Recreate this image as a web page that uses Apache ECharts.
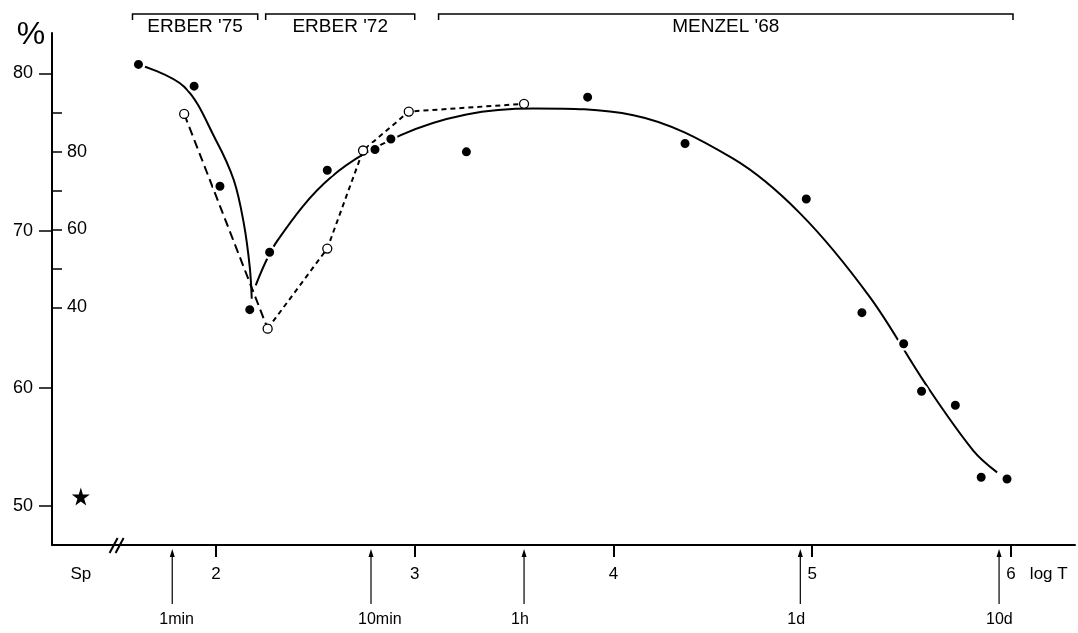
<!DOCTYPE html>
<html>
<head>
<meta charset="utf-8">
<script src="https://cdn.jsdelivr.net/npm/echarts@6/dist/echarts.min.js"></script>
<style>
  html, body { margin: 0; padding: 0; background: #fff; }
  #chart { width: 1078px; height: 633px; }
</style>
</head>
<body>
<div id="chart"></div>
<script>
// x = log T (T in seconds)
// filled points, read on the outer % scale
const filledX = [1.61, 1.89, 2.02, 2.17, 2.27, 2.56, 2.80, 2.88, 3.26, 3.87, 4.36, 4.97, 5.25, 5.46, 5.55, 5.72, 5.85, 5.98];
const filledY = [80.57, 79.19, 72.82, 64.97, 68.62, 73.84, 75.16, 75.83, 75.01, 78.49, 75.54, 72.01, 64.78, 62.80, 59.78, 58.89, 54.31, 54.20];

// open points, read on the inner scale (40 / 60 / 80)
const openX = [1.84, 2.26, 2.56, 2.74, 2.97, 3.55];
const openY = [89.7, 34.5, 55.1, 80.3, 90.3, 92.3];

// hand drawn fit curve (outer % scale), two branches
const fitLeftX = [1.61, 1.84, 2.00, 2.09, 2.14, 2.17, 2.18];
const fitLeftY = [80.57, 79.15, 75.75, 73.20, 70.46, 67.68, 65.67];
const fitRightX = [2.20, 2.31, 2.58, 2.93, 3.26, 3.60, 4.10, 4.60, 4.94, 5.29, 5.57, 5.81, 5.93];
const fitRightY = [66.52, 69.38, 73.41, 76.07, 77.39, 77.77, 77.34, 74.59, 71.08, 65.77, 60.25, 56.01, 54.62];

// Sp (star)
const spX = 1.32;
const spY = 53.08;

// axis ticks
const xTickValues = [2, 3, 4, 5, 6];
const logTX = 6.19;
const outerTickValues = [52.5, 60, 70, 80];
const outerTickLabels = ['50', '60', '70', '80'];
const innerTickValues = [40, 50, 60, 70, 80, 90];
const innerLabelValues = [40, 60, 80];

// time marks under the axis
const timeX = [1.78, 2.78, 3.55, 4.94, 5.94];
const timeLabels = ['1min', '10min', '1h', '1d', '10d'];

// source brackets on top
const groupStart = [1.58, 2.25, 3.12];
const groupEnd = [2.21, 3.00, 6.01];
const groupNames = ["ERBER '75", "ERBER '72", "MENZEL '68"];

const breakX = 1.5;

const FONT = '"Liberation Sans", Arial, sans-serif';
const pairs = (xs, ys) => xs.map((x, i) => [x, ys[i]]);

const chart = echarts.init(document.getElementById('chart'));

const xLabel = v => {
    if (v === spX) return 'Sp';
    if (v === logTX) return 'log T';
    return String(v);
};

const option = {
    animation: false,
    backgroundColor: '#fff',
    grid: { left: 52, right: 3, top: 33, bottom: 88 },
    xAxis: {
        type: 'value',
        min: 1.175,
        max: 6.322,
        axisLine: { onZero: false, lineStyle: { color: '#000', width: 2 } },
        axisTick: { customValues: xTickValues, length: 12, lineStyle: { color: '#000', width: 2 } },
        axisLabel: {
            customValues: [spX].concat(xTickValues, [logTX]),
            formatter: xLabel,
            color: '#000',
            fontSize: 17,
            fontFamily: FONT,
            margin: 21
        },
        splitLine: { show: false }
    },
    yAxis: [
        {
            // outer % scale
            type: 'value',
            min: 50,
            max: 82.57,
            position: 'left',
            name: '%',
            nameLocation: 'end',
            nameGap: -18,
            nameMoveOverlap: false,
            nameTextStyle: { color: '#000', fontSize: 32, fontFamily: FONT, padding: [0, 42, 0, 0] },
            axisLine: { show: true, onZero: false, lineStyle: { color: '#000', width: 2 } },
            axisTick: { customValues: outerTickValues, length: 13, lineStyle: { color: '#000', width: 1.5 } },
            axisLabel: {
                customValues: outerTickValues,
                formatter: v => outerTickLabels[outerTickValues.indexOf(v)],
                color: '#000',
                fontSize: 18,
                fontFamily: FONT,
                margin: 19
            },
            splitLine: { show: false }
        },
        {
            // inner scale
            type: 'value',
            min: -21.1,
            max: 110.5,
            position: 'left',
            offset: 0,
            axisLine: { show: false, onZero: false },
            axisTick: { inside: true, customValues: innerTickValues, length: 10, lineStyle: { color: '#000', width: 1.5 } },
            axisLabel: {
                inside: true,
                customValues: innerLabelValues,
                color: '#000',
                fontSize: 18,
                fontFamily: FONT,
                margin: 15
            },
            splitLine: { show: false }
        }
    ],
    series: [
        {
            name: 'fit left',
            type: 'line',
            z: 2,
            data: pairs(fitLeftX, fitLeftY),
            smooth: 0.35,
            symbol: 'none',
            silent: true,
            lineStyle: { color: '#000', width: 2 }
        },
        {
            name: 'fit right',
            type: 'line',
            z: 2,
            data: pairs(fitRightX, fitRightY),
            smooth: 0.35,
            symbol: 'none',
            silent: true,
            lineStyle: { color: '#000', width: 2 }
        },
        {
            name: 'open dashed a',
            type: 'line',
            z: 2,
            yAxisIndex: 1,
            data: pairs(openX.slice(0, 2), openY.slice(0, 2)),
            symbol: 'none',
            silent: true,
            lineStyle: { color: '#000', width: 2, type: [9, 5] }
        },
        {
            name: 'open dashed b',
            type: 'line',
            z: 2,
            yAxisIndex: 1,
            data: pairs(openX.slice(1), openY.slice(1)),
            symbol: 'none',
            silent: true,
            lineStyle: { color: '#000', width: 2, type: [5, 4] }
        },
        {
            name: 'filled',
            type: 'scatter',
            z: 6,
            data: pairs(filledX, filledY),
            symbol: 'circle',
            symbolSize: 11.5,
            silent: true,
            itemStyle: { color: '#000', borderColor: '#fff', borderWidth: 2.5, opacity: 1 }
        },
        {
            name: 'open',
            type: 'scatter',
            z: 6,
            yAxisIndex: 1,
            data: pairs(openX, openY),
            symbol: 'circle',
            symbolSize: 9,
            silent: true,
            itemStyle: { color: '#fff', borderColor: '#000', borderWidth: 1.3, opacity: 1 }
        },
        {
            name: 'Sp',
            type: 'scatter',
            z: 6,
            data: [[spX, spY]],
            symbol: 'path://M50,0 L61,35 L98,35 L68,57 L79,91 L50,70 L21,91 L32,57 L2,35 L39,35 Z',
            symbolSize: 18,
            silent: true,
            itemStyle: { color: '#000', opacity: 1 }
        },
        {
            // time arrows under the axis
            name: 'time',
            type: 'custom',
            silent: true,
            clip: false,
            data: timeX.map(v => [v, 50]),
            encode: { x: 0, y: 1 },
            renderItem(params, api) {
                const p = api.coord([api.value(0), 50]);
                const x = p[0];
                const y = p[1];
                return {
                    type: 'group',
                    children: [
                        { type: 'line', shape: { x1: x, y1: y + 9, x2: x, y2: y + 59 }, style: { stroke: '#000', lineWidth: 1.2 } },
                        { type: 'polygon', shape: { points: [[x, y + 4], [x - 2.5, y + 12], [x + 2.5, y + 12]] }, style: { fill: '#000' } },
                        {
                            type: 'text',
                            style: {
                                text: timeLabels[params.dataIndex],
                                x: x - 13,
                                y: y + 75,
                                align: 'left',
                                verticalAlign: 'middle',
                                fontSize: 16,
                                fontFamily: FONT,
                                fill: '#000'
                            }
                        }
                    ]
                };
            }
        },
        {
            // source brackets
            name: 'sources',
            type: 'custom',
            silent: true,
            clip: false,
            data: groupStart.map((s, i) => [s, groupEnd[i], 80]),
            encode: { x: [0, 1], y: 2 },
            renderItem(params, api) {
                const x1 = api.coord([api.value(0), 80])[0];
                const x2 = api.coord([api.value(1), 80])[0];
                const top = params.coordSys.y - 19;
                return {
                    type: 'group',
                    children: [
                        {
                            type: 'polyline',
                            shape: { points: [[x1, top + 6], [x1, top], [x2, top], [x2, top + 6]] },
                            style: { stroke: '#000', lineWidth: 1.5, fill: null }
                        },
                        {
                            type: 'text',
                            style: {
                                text: groupNames[params.dataIndex],
                                x: (x1 + x2) / 2,
                                y: top + 13,
                                align: 'center',
                                verticalAlign: 'middle',
                                fontSize: 19,
                                fontFamily: FONT,
                                fill: '#000'
                            }
                        }
                    ]
                };
            }
        },
        {
            // axis break mark
            name: 'break',
            type: 'custom',
            silent: true,
            clip: false,
            data: [[breakX, 50]],
            encode: { x: 0, y: 1 },
            renderItem(params, api) {
                const p = api.coord([api.value(0), 50]);
                const x = p[0];
                const y = p[1];
                return {
                    type: 'group',
                    children: [
                        { type: 'line', shape: { x1: x - 7, y1: y + 8, x2: x + 1, y2: y - 7 }, style: { stroke: '#000', lineWidth: 2 } },
                        { type: 'line', shape: { x1: x - 1, y1: y + 8, x2: x + 7, y2: y - 7 }, style: { stroke: '#000', lineWidth: 2 } }
                    ]
                };
            }
        }
    ]
};

chart.setOption(option);
</script>
</body>
</html>
